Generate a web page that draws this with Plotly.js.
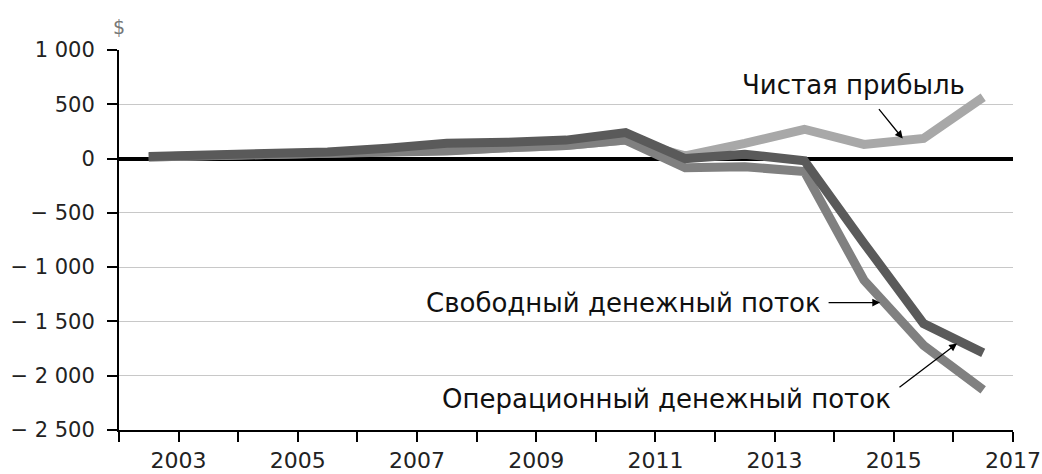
<!DOCTYPE html>
<html>
<head>
<meta charset="utf-8">
<script src="https://cdn.plot.ly/plotly-3.0.1.min.js"></script>
<style>
  html, body { margin: 0; padding: 0; background: #fff; }
  #chart { width: 1042px; height: 474px; }
</style>
</head>
<body>
<div id="chart"></div>
<script>
// Data (years are centred between the yearly tick marks)
const years = [2002.5, 2003.5, 2004.5, 2005.5, 2006.5, 2007.5, 2008.5, 2009.5, 2010.5, 2011.5, 2012.5, 2013.5, 2014.5, 2015.5, 2016.5];
const netIncome = [15, 25, 35, 45, 55, 75, 100, 120, 170, 25, 140, 270, 130, 185, 565];
const freeCashFlow = [15, 25, 35, 45, 55, 70, 100, 120, 170, -85, -75, -120, -1120, -1720, -2130];
const operatingCashFlow = [20, 30, 40, 60, 95, 140, 150, 170, 240, 0, 40, -20, -780, -1520, -1790];

const yTickVals = [-2500, -2000, -1500, -1000, -500, 0, 500, 1000];
const yTickText = ['\u2212 2 500', '\u2212 2 000', '\u2212 1 500', '\u2212 1 000', '\u2212 500', '0', '500', '1 000'];
const xTickVals = [2002, 2003, 2004, 2005, 2006, 2007, 2008, 2009, 2010, 2011, 2012, 2013, 2014, 2015, 2016, 2017];
const xTickText = ['', '2003', '', '2005', '', '2007', '', '2009', '', '2011', '', '2013', '', '2015', '', '2017'];

const labelNet = 'Чистая прибыль';
const labelFcf = 'Свободный денежный поток';
const labelOcf = 'Операционный денежный поток';

const FONT = '"DejaVu Sans", "Liberation Sans", Arial, sans-serif';

const traces = [
  { x: years, y: netIncome, name: labelNet, mode: 'lines',
    line: { color: '#a8a8a8', width: 9, shape: 'linear' } },
  { x: years, y: freeCashFlow, name: labelFcf, mode: 'lines',
    line: { color: '#808080', width: 9 } },
  { x: years, y: operatingCashFlow, name: labelOcf, mode: 'lines',
    line: { color: '#5a5a5a', width: 9 } }
];

const layout = {
  width: 1042, height: 474,
  margin: { l: 119, r: 29, t: 50, b: 44, pad: 0 },
  paper_bgcolor: '#ffffff', plot_bgcolor: '#ffffff',
  showlegend: false,
  font: { family: FONT, color: '#222222', size: 18 },
  xaxis: {
    range: [2002, 2017], tickmode: 'array', tickvals: xTickVals, ticktext: xTickText,
    showgrid: false, zeroline: false, showline: true, linecolor: '#000', linewidth: 2,
    ticks: 'outside', ticklen: 10, tickwidth: 2, tickcolor: '#000',
    tickfont: { family: FONT, size: 22, color: '#222' }
  },
  yaxis: {
    range: [-2500, 1000], tickmode: 'array', tickvals: yTickVals, ticktext: yTickText,
    showgrid: true, gridcolor: '#c8c8c8', gridwidth: 1,
    zeroline: true, zerolinecolor: '#000', zerolinewidth: 4,
    showline: true, linecolor: '#000', linewidth: 2,
    ticks: 'outside', ticklen: 10, tickwidth: 2, tickcolor: '#000',
    ticklabelstandoff: 8,
    tickfont: { family: FONT, size: 21, color: '#222' }
  },
  annotations: [
    { xref: 'paper', yref: 'paper', x: 0, y: 1, xanchor: 'center', yanchor: 'bottom', yshift: 10,
      text: '$', showarrow: false, font: { family: FONT, size: 19, color: '#777' } },
    { x: 2014.33, y: 681, xref: 'x', yref: 'y', text: labelNet, showarrow: false,
      xanchor: 'center', yanchor: 'middle', font: { family: FONT, size: 26, color: '#111' } },
    { x: 2013.81, y: -1326, xref: 'x', yref: 'y', text: labelFcf, showarrow: false,
      xanchor: 'right', yanchor: 'middle', font: { family: FONT, size: 26, color: '#111' } },
    { x: 2014.99, y: -2210, xref: 'x', yref: 'y', text: labelOcf, showarrow: false,
      xanchor: 'right', yanchor: 'middle', font: { family: FONT, size: 26, color: '#111' } },
    { x: 2015.15, y: 184, xref: 'x', yref: 'y', ax: -25, ay: -31, text: '', showarrow: true,
      arrowhead: 2, arrowsize: 1.2, arrowwidth: 1.3, arrowcolor: '#000' },
    { x: 2014.77, y: -1326, xref: 'x', yref: 'y', ax: -53, ay: 0, text: '', showarrow: true,
      arrowhead: 2, arrowsize: 1.2, arrowwidth: 1.3, arrowcolor: '#000' },
    { x: 2016.06, y: -1703, xref: 'x', yref: 'y', ax: -59, ay: 45, text: '', showarrow: true,
      arrowhead: 2, arrowsize: 1.2, arrowwidth: 1.3, arrowcolor: '#000' }
  ]
};

Plotly.newPlot('chart', traces, layout, { displayModeBar: false, staticPlot: true });
</script>
</body>
</html>
